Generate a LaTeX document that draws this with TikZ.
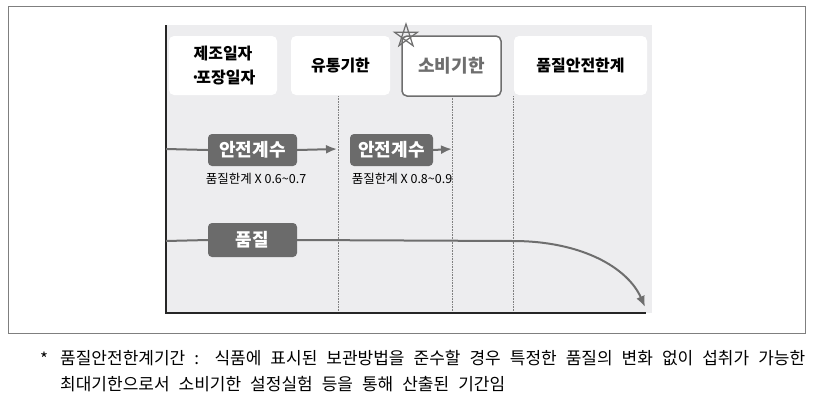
\documentclass[tikz,border=0pt]{standalone}
\usepackage{fontspec}
\setmainfont{Noto Sans CJK KR}
\usetikzlibrary{positioning,arrows.meta}
\definecolor{panelgray}{HTML}{EDEDEF}
\definecolor{boxgray}{HTML}{6B6B6B}
\definecolor{linegray}{HTML}{6E6E6E}
\definecolor{framegray}{HTML}{7F7F7F}

\begin{document}
\begin{tikzpicture}[x=1pt,y=-1pt,
  datebox/.style={fill=white,rounded corners=5pt,minimum height=59pt,inner sep=0pt,
    align=center,font=\fontsize{16}{24}\selectfont\bfseries},
  factorbox/.style={fill=boxgray,text=white,rounded corners=4pt,minimum width=89pt,
    inner sep=0pt,font=\fontsize{18}{20}\selectfont\bfseries},
  flowline/.style={linegray,line width=2pt},
  guide/.style={gray,densely dotted,line width=0.6pt},
  smalltext/.style={inner sep=0pt,font=\fontsize{12.5}{14}\selectfont},
  notetext/.style={inner sep=0pt,anchor=west,font=\fontsize{17}{18}\selectfont}]
\useasboundingbox (0,0) rectangle (815,408);

% frame and panel
\draw [framegray,line width=1pt] (8,6) rectangle (805,333);
\fill [panelgray] (166,25) rectangle (652,313);

% guides
\draw [guide] (338,96) -- (338,313);
\draw [guide] (452,96) -- (452,313);
\draw [guide] (513,96) -- (513,313);

% axes
\draw [black!85,line width=2pt] (166,25) -- (166,313) -- (646,313);

% date boxes
\node [datebox,minimum width=108pt] (made) at (223,65.5) {제조일자\\·\kern-4pt 포장일자};
\node [datebox,minimum width=99pt] (sell) at (340.5,65.5) {유통기한};
\node [datebox,minimum width=99pt,minimum height=60pt,draw=linegray,line width=1.5pt,
  text=linegray,font=\fontsize{18}{20}\selectfont\bfseries] (use) at (451.5,66) {소비기한};
\node [datebox,minimum width=133pt] (limit) at (580.5,65.5) {품질안전한계};

% star
\coordinate (star) at (406,36);
\draw [linegray,line width=1.2pt] (star) +(-90:12) -- +(54:12) -- +(198:12)
  -- +(-18:12) -- +(126:12) -- cycle;

% safety factors
\coordinate (axA) at (166,149);
\coordinate (tip1) at (337,149);
\coordinate (tip2) at (452,149);
\node [factorbox,minimum height=32pt] (sf1) at (252.5,150) {안전계수};
\node [factorbox,minimum width=83pt,minimum height=32pt] (sf2) at (391.5,150) {안전계수};
\draw [flowline] (axA) -- (sf1.west);
\draw [flowline,-{Latex[length=11pt,width=9pt]}] (sf1.east) -- (tip1);
\draw [flowline,-{Latex[length=11pt,width=9pt]}] (sf2.east) -- (tip2);
\node [smalltext] (sf1note) at (256,179) {품질한계 X 0.6\textasciitilde0.7};
\node [smalltext] (sf2note) at (402,179) {품질한계 X 0.8\textasciitilde0.9};

% quality
\coordinate (axB) at (166,241);
\coordinate (bend) at (513,241);
\coordinate (qend) at (645,307);
\node [factorbox,minimum height=34pt] (qual) at (252.5,240) {품질};
\draw [flowline] (axB) -- (qual.west);
\draw [flowline,-{Latex[length=11pt,width=9pt]}] (qual.east) -- (bend)
  .. controls (582,241) and (628,268) .. (qend);

% note
\node [notetext,anchor=center] (star-mark) at (44,359) {*};
\node [notetext] (note1) at (60,358)
  {\makebox[745pt][s]{품질안전한계기간 : 식품에 표시된 보관방법을 준수할 경우 특정한 품질의 변화 없이 섭취가 가능한}};
\node [notetext] (note2) at (60,384)
  {\makebox[445pt][s]{최대기한으로서 소비기한 설정실험 등을 통해 산출된 기간임}};
\end{tikzpicture}
\end{document}
